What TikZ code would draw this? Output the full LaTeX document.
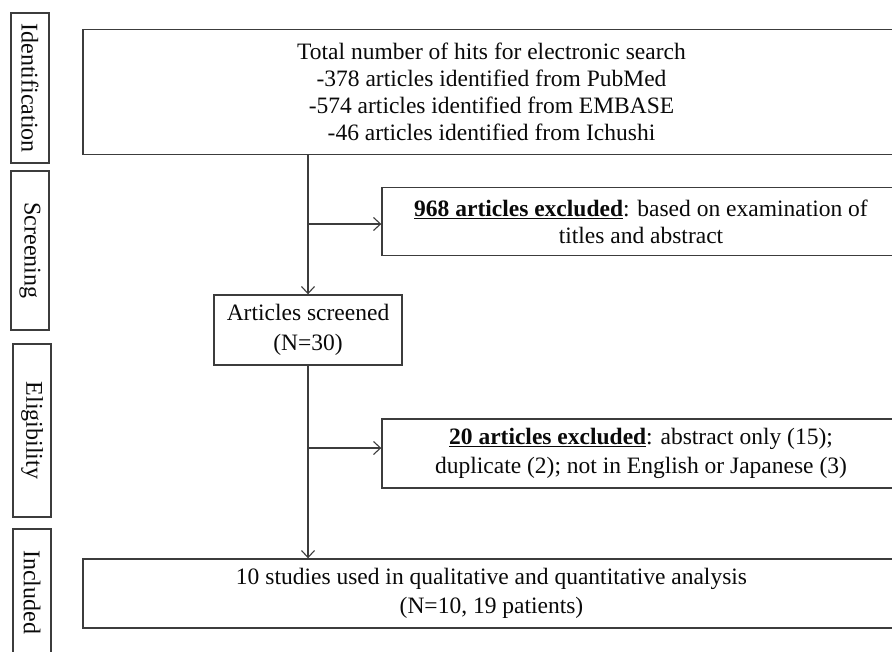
\documentclass[tikz,border=0pt]{standalone}
\usepackage{fontspec}
\setmainfont{Liberation Serif}
\usetikzlibrary{arrows.meta}
\definecolor{ln}{RGB}{60,60,60}
\definecolor{tx}{RGB}{10,10,10}
\begin{document}
\begin{tikzpicture}[x=1pt,y=-1pt,
  box/.style={draw=ln,line width=1.4pt,inner sep=0pt,align=center,text=tx,
    font=\fontsize{23.5}{27}\selectfont},
  side/.style={box,rotate=-90,minimum height=38pt,font=\fontsize{24}{27}\selectfont},
  arr/.style={draw=ln,line width=1.3pt,-{Straight Barb[length=7pt,width=13pt,line width=1.1pt]}}]
\useasboundingbox (0,0) rectangle (892,651);
\clip (0,0) rectangle (892,651);
\fill[white] (0,0) rectangle (892,651);
% side labels
\node[side,minimum width=150pt] (lid) at (30,88) {Identification};
\node[side,minimum width=159pt] (lsc) at (30,250.5) {Screening};
\node[side,minimum width=173pt] (lel) at (32,430.5) {Eligibility};
\node[side,minimum width=126pt] (lin) at (32,592) {Included};
% main boxes
\node[box,minimum width=817pt,minimum height=125pt] (top) at (491.5,92)
  {Total number of hits for electronic search\\-378 articles identified from PubMed\\-574 articles identified from EMBASE\\-46 articles identified from Ichushi};
\node[box,minimum width=518pt,minimum height=68pt] (ex1) at (641,221.5)
  {\underline{\textbf{968 articles excluded}}: based on examination of\\titles and abstract};
\node[box,minimum width=188pt,minimum height=70pt,font=\fontsize{23.5}{30}\selectfont] (scr) at (308,330)
  {Articles screened\\(N=30)};
\node[box,minimum width=518pt,minimum height=69pt,font=\fontsize{23.5}{29}\selectfont] (ex2) at (641,453.5)
  {\underline{\textbf{20 articles excluded}}: abstract only (15);\\duplicate (2); not in English or Japanese (3)};
\node[box,minimum width=817pt,minimum height=69pt,font=\fontsize{23.5}{29}\selectfont] (fin) at (491.5,593.5)
  {10 studies used in qualitative and quantitative analysis\\(N=10, 19 patients)};
% connectors
\coordinate (b1) at (308,224);
\coordinate (b2) at (308,448);
\draw[arr] (scr.north |- top.south) -- (scr.north);
\draw[arr] (b1) -- (b1 -| ex1.west);
\draw[arr] (scr.south) -- (scr.south |- fin.north);
\draw[arr] (b2) -- (b2 -| ex2.west);
\end{tikzpicture}
\end{document}
